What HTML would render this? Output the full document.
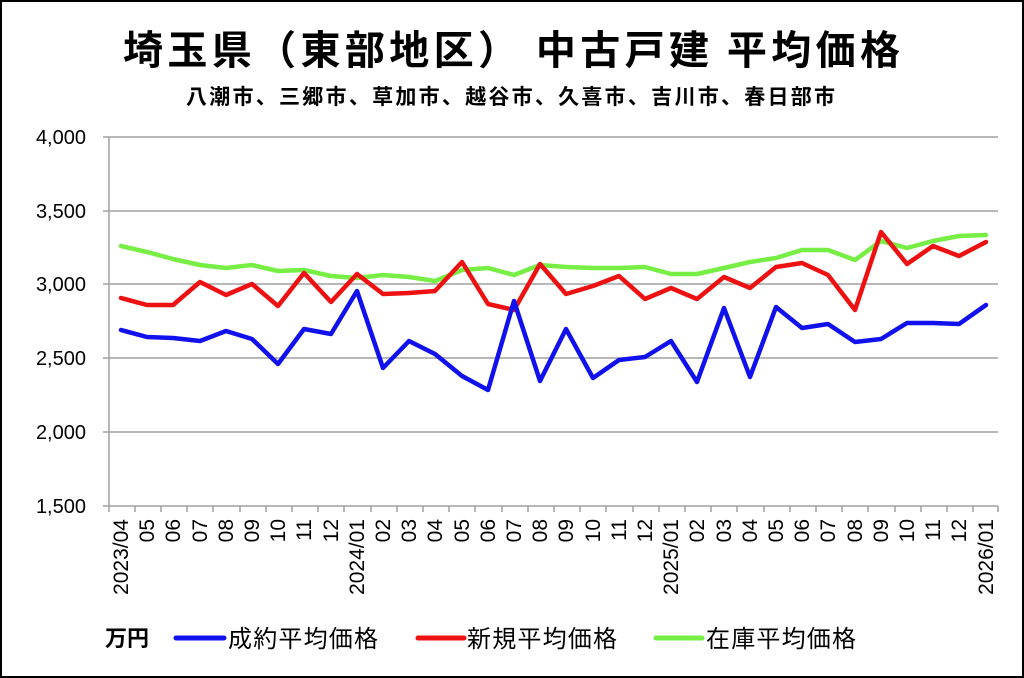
<!DOCTYPE html>
<html><head><meta charset="utf-8"><style>
html,body{margin:0;padding:0;background:#fff}
svg{display:block}
text{font-family:"Liberation Sans","Noto Sans CJK JP",sans-serif}
</style></head><body>
<svg width="1024" height="678" viewBox="0 0 1024 678" xmlns="http://www.w3.org/2000/svg">
<rect x="1" y="1" width="1022" height="676" fill="#fff" stroke="#000" stroke-width="2"/>
<text x="123" y="64" font-size="40" font-weight="bold" textLength="777" lengthAdjust="spacing" style="font-family:'Noto Sans CJK JP',sans-serif">埼玉県（東部地区）  中古戸建  平均価格</text>
<text x="186" y="104" font-size="21" font-weight="bold" textLength="649" lengthAdjust="spacing" style="font-family:'Noto Sans CJK JP',sans-serif">八潮市、三郷市、草加市、越谷市、久喜市、吉川市、春日部市</text>
<g stroke="#a0a0a0" stroke-width="1.5">
<line x1="103" y1="137" x2="998" y2="137"/>
<line x1="103" y1="211" x2="998" y2="211"/>
<line x1="103" y1="284" x2="998" y2="284"/>
<line x1="103" y1="358" x2="998" y2="358"/>
<line x1="103" y1="432" x2="998" y2="432"/>
<line x1="103" y1="506" x2="998" y2="506"/>
<line x1="109" y1="137" x2="109" y2="506"/>
</g>
<g stroke="#a0a0a0" stroke-width="1.5">
<line x1="109" y1="506" x2="109" y2="512"/><line x1="135" y1="506" x2="135" y2="512"/><line x1="161" y1="506" x2="161" y2="512"/><line x1="187" y1="506" x2="187" y2="512"/><line x1="213" y1="506" x2="213" y2="512"/><line x1="240" y1="506" x2="240" y2="512"/><line x1="266" y1="506" x2="266" y2="512"/><line x1="292" y1="506" x2="292" y2="512"/><line x1="318" y1="506" x2="318" y2="512"/><line x1="344" y1="506" x2="344" y2="512"/><line x1="371" y1="506" x2="371" y2="512"/><line x1="397" y1="506" x2="397" y2="512"/><line x1="423" y1="506" x2="423" y2="512"/><line x1="449" y1="506" x2="449" y2="512"/><line x1="475" y1="506" x2="475" y2="512"/><line x1="502" y1="506" x2="502" y2="512"/><line x1="528" y1="506" x2="528" y2="512"/><line x1="554" y1="506" x2="554" y2="512"/><line x1="580" y1="506" x2="580" y2="512"/><line x1="606" y1="506" x2="606" y2="512"/><line x1="633" y1="506" x2="633" y2="512"/><line x1="659" y1="506" x2="659" y2="512"/><line x1="685" y1="506" x2="685" y2="512"/><line x1="711" y1="506" x2="711" y2="512"/><line x1="737" y1="506" x2="737" y2="512"/><line x1="764" y1="506" x2="764" y2="512"/><line x1="790" y1="506" x2="790" y2="512"/><line x1="816" y1="506" x2="816" y2="512"/><line x1="842" y1="506" x2="842" y2="512"/><line x1="868" y1="506" x2="868" y2="512"/><line x1="895" y1="506" x2="895" y2="512"/><line x1="921" y1="506" x2="921" y2="512"/><line x1="947" y1="506" x2="947" y2="512"/><line x1="973" y1="506" x2="973" y2="512"/><line x1="998" y1="506" x2="998" y2="512"/>
</g>
<g font-size="20" text-anchor="end" fill="#000">
<text x="86" y="144">4,000</text><text x="86" y="218">3,500</text><text x="86" y="291">3,000</text><text x="86" y="365">2,500</text><text x="86" y="439">2,000</text><text x="86" y="513">1,500</text>
</g>
<g font-size="21" text-anchor="end" fill="#000">
<text transform="translate(128,519) rotate(-90)">2023/04</text>
<text transform="translate(154,519) rotate(-90)">05</text>
<text transform="translate(180,519) rotate(-90)">06</text>
<text transform="translate(207,519) rotate(-90)">07</text>
<text transform="translate(233,519) rotate(-90)">08</text>
<text transform="translate(259,519) rotate(-90)">09</text>
<text transform="translate(285,519) rotate(-90)">10</text>
<text transform="translate(311,519) rotate(-90)">11</text>
<text transform="translate(338,519) rotate(-90)">12</text>
<text transform="translate(364,519) rotate(-90)">2024/01</text>
<text transform="translate(390,519) rotate(-90)">02</text>
<text transform="translate(416,519) rotate(-90)">03</text>
<text transform="translate(442,519) rotate(-90)">04</text>
<text transform="translate(469,519) rotate(-90)">05</text>
<text transform="translate(495,519) rotate(-90)">06</text>
<text transform="translate(521,519) rotate(-90)">07</text>
<text transform="translate(547,519) rotate(-90)">08</text>
<text transform="translate(573,519) rotate(-90)">09</text>
<text transform="translate(600,519) rotate(-90)">10</text>
<text transform="translate(626,519) rotate(-90)">11</text>
<text transform="translate(652,519) rotate(-90)">12</text>
<text transform="translate(678,519) rotate(-90)">2025/01</text>
<text transform="translate(704,519) rotate(-90)">02</text>
<text transform="translate(731,519) rotate(-90)">03</text>
<text transform="translate(757,519) rotate(-90)">04</text>
<text transform="translate(783,519) rotate(-90)">05</text>
<text transform="translate(809,519) rotate(-90)">06</text>
<text transform="translate(835,519) rotate(-90)">07</text>
<text transform="translate(862,519) rotate(-90)">08</text>
<text transform="translate(888,519) rotate(-90)">09</text>
<text transform="translate(914,519) rotate(-90)">10</text>
<text transform="translate(940,519) rotate(-90)">11</text>
<text transform="translate(966,519) rotate(-90)">12</text>
<text transform="translate(993,519) rotate(-90)">2026/01</text>
</g>
<g fill="none" stroke-width="4.5" stroke-linejoin="round" stroke-linecap="round">
<polyline stroke="#77ee44" points="121,246 147,252 173,259 200,265 226,268 252,265 278,271 304,270 331,276 357,278 383,275 409,277 435,281 462,270 488,268 514,275 540,265 566,267 593,268 619,268 645,267 671,274 697,274 724,268 750,262 776,258 802,250 828,250 855,260 881,241 907,248 933,241 959,236 986,235"/>
<polyline stroke="#ee1111" points="121,298 147,305 173,305 200,282 226,295 252,284 278,306 304,273 331,302 357,274 383,294 409,293 435,291 462,262 488,304 514,310 540,264 566,294 593,286 619,276 645,299 671,288 697,299 724,277 750,288 776,267 802,263 828,275 855,310 881,232 907,264 933,246 959,256 986,242"/>
<polyline stroke="#1111ee" points="121,330 147,337 173,338 200,341 226,331 252,339 278,364 304,329 331,334 357,291 383,368 409,341 435,354 462,376 488,390 514,301 540,381 566,329 593,378 619,360 645,357 671,341 697,382 724,308 750,377 776,307 802,328 828,324 855,342 881,339 907,323 933,323 959,324 986,305"/>
</g>
<g font-size="24" fill="#000" style="font-family:'Noto Sans CJK JP',sans-serif">
<text x="105" y="646" font-weight="bold" font-size="22">万円</text>
<line x1="176" y1="638" x2="224" y2="638" stroke="#1111ee" stroke-width="5" stroke-linecap="round"/>
<text x="228" y="647" textLength="150" lengthAdjust="spacing">成約平均価格</text>
<line x1="418" y1="638" x2="464" y2="638" stroke="#ee1111" stroke-width="5" stroke-linecap="round"/>
<text x="467" y="647" textLength="150" lengthAdjust="spacing">新規平均価格</text>
<line x1="656" y1="638" x2="702" y2="638" stroke="#77ee44" stroke-width="5" stroke-linecap="round"/>
<text x="706" y="647" textLength="150" lengthAdjust="spacing">在庫平均価格</text>
</g>
</svg>
</body></html>
